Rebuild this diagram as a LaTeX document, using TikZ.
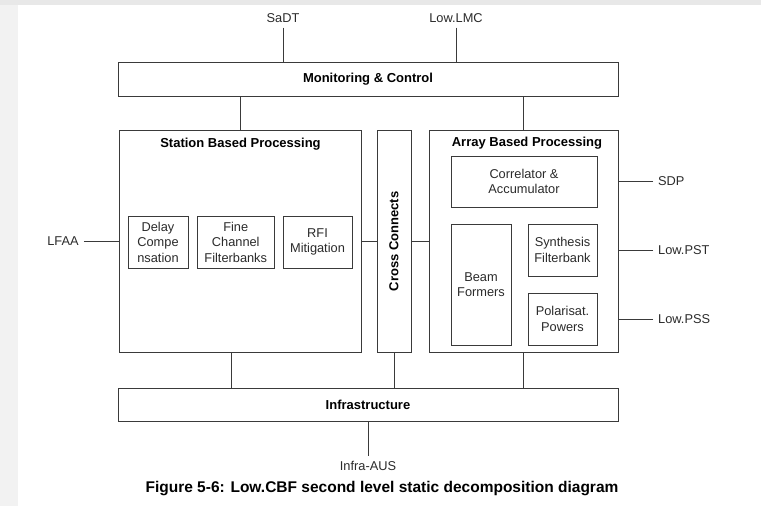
\documentclass[tikz,border=0pt]{standalone}
\usepackage{fontspec}
\setmainfont{Liberation Sans}
\definecolor{linec}{HTML}{3A3A3A}
\definecolor{textc}{HTML}{2B2B2B}
\begin{document}
\begin{tikzpicture}[x=1pt,y=-1pt,
  box/.style={draw=linec, line width=1pt, inner sep=0pt, align=center,
    text=textc, font=\fontsize{12.8}{15.5}\selectfont},
  ttl/.style={inner sep=0pt, text=black, font=\bfseries\fontsize{13}{15}\selectfont},
  lbl/.style={inner sep=5pt, text=textc, font=\fontsize{12.8}{15}\selectfont},
  wire/.style={draw=linec, line width=1pt}]
% page
\useasboundingbox (0,0) rectangle (761,506);
\fill[white] (0,0) rectangle (761,506);
\fill[black!5] (0,0) rectangle (18,506);
\fill[black!9] (0,0) rectangle (761,5);

% outer blocks
\node[box, minimum width=500, minimum height=34] (mc) at (368,79) {};
\node[ttl] (mcT) at (368,79) {Monitoring \& Control};
\node[box, minimum width=500, minimum height=33] (infra) at (368,404.5) {};
\node[ttl] (infraT) at (368,405) {Infrastructure};
\node[box, minimum width=242, minimum height=222] (sbp) at (240,241) {};
\node[ttl] (sbpT) at (240.5,144) {Station Based Processing};
\node[box, minimum width=34, minimum height=222] (cc) at (394,241) {};
\node[ttl, rotate=90] (ccT) at (394,241.5) {Cross Connects};
\node[box, minimum width=189, minimum height=222] (abp) at (523.5,241) {};
\node[ttl] (abpT) at (527,143) {Array Based Processing};

% station based processing stages
\node[box, minimum width=60, minimum height=52] (delay) at (158,242) {Delay\\Compe\\nsation};
\node[box, minimum width=77.5, minimum height=52] (fine) at (235.75,242) {Fine\\Channel\\Filterbanks};
\node[box, minimum width=69, minimum height=52] (rfi) at (317.5,242) {RFI\\Mitigation};

% array based processing stages
\node[box, minimum width=146, minimum height=51] (corr) at (524,181.5) {Correlator \&\\Accumulator};
\node[box, minimum width=60, minimum height=121] (beam) at (481,284.5) {Beam\\Formers};
\node[box, minimum width=69, minimum height=52] (synth) at (562.5,250) {Synthesis\\Filterbank};
\node[box, minimum width=69, minimum height=52] (polar) at (562.5,319) {Polarisat.\\Powers};

% external interfaces
\node[lbl] (sadt) at (283,18) {SaDT};
\node[lbl] (lmc) at (456,18) {Low.LMC};
\node[lbl] (lfaa) at (63,241.5) {LFAA};
\node[lbl, anchor=west] (sdp) at (653,181.5) {SDP};
\node[lbl, anchor=west] (pst) at (653,250) {Low.PST};
\node[lbl, anchor=west] (pss) at (653,319) {Low.PSS};
\node[lbl] (aus) at (368,466) {Infra-AUS};

% connections
\draw[wire] (sadt.south) -- (sadt.south |- mc.north);
\draw[wire] (lmc.south) -- (lmc.south |- mc.north);
\draw[wire] (mc.south -| sbp.north) -- (sbp.north);
\draw[wire] (mc.south -| abp.north) -- (abp.north);
\draw[wire] (lfaa.east) -- (lfaa.east -| sbp.west);
\draw[wire] (sbp.east) -- (cc.west);
\draw[wire] (cc.east) -- (abp.west);
\draw[wire] (sdp.west) -- (sdp.west -| abp.east);
\draw[wire] (pst.west) -- (pst.west -| abp.east);
\draw[wire] (pss.west) -- (pss.west -| abp.east);
\draw[wire] ([xshift=-9pt]sbp.south) -- ([xshift=-9pt]sbp.south |- infra.north);
\draw[wire] (cc.south) -- (cc.south |- infra.north);
\draw[wire] (abp.south) -- (abp.south |- infra.north);
\draw[wire] (infra.south) -- (aus.north);

% caption
\node[inner sep=0pt, font=\bfseries\fontsize{15.5}{18}\selectfont] (cap) at (382,489)
  {Figure 5-6: Low.CBF second level static decomposition diagram};
\end{tikzpicture}
\end{document}
